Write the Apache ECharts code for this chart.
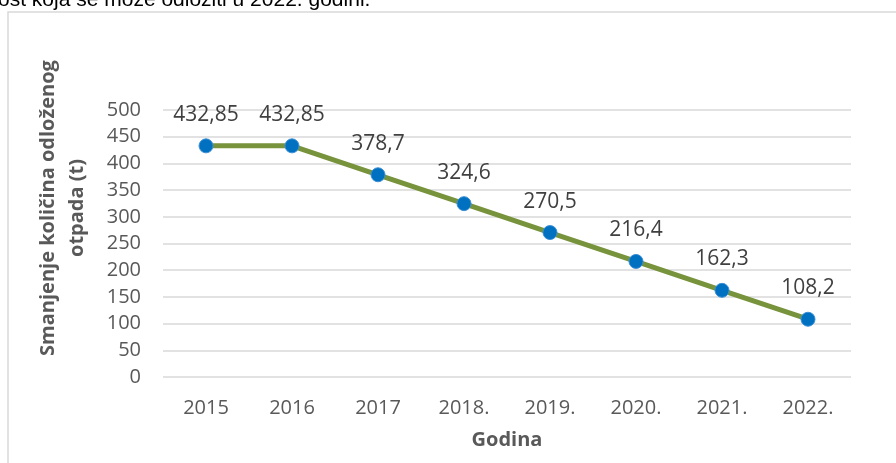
<!DOCTYPE html>
<html>
<head>
<meta charset="utf-8">
<script src="https://cdn.jsdelivr.net/npm/echarts@6/dist/echarts.min.js"></script>
<style>
html,body{margin:0;padding:0;background:#fff;}
#chart{width:896px;height:463px;}
</style>
</head>
<body>
<div id="chart"></div>
<script>
// podaci
var godine = ['2015', '2016', '2017', '2018.', '2019.', '2020.', '2021.', '2022.'];
var kolicina = [432.85, 432.85, 378.7, 324.6, 270.5, 216.4, 162.3, 108.2];
var yTicks = [0, 50, 100, 150, 200, 250, 300, 350, 400, 450, 500];

var chart = echarts.init(document.getElementById('chart'));
var font = '"Open Sans", "Noto Sans", sans-serif';

var option = {
	animation: false,
	graphic: [
		{
			type: 'text', left: -2, top: -10,
			style: {text: 'ost koja se može odložiti u 2022. godini.', font: '21px "Liberation Sans", Arial, sans-serif', fill: '#000'}
		},
		{
			type: 'rect', shape: {x: 8, y: 12, width: 1000, height: 600},
			style: {fill: 'none', stroke: '#d9d9d9', lineWidth: 1.5}
		},
		{
			type: 'text', x: 63, y: 208, rotation: Math.PI / 2,
			style: {
				text: 'Smanjenje količina odloženog\notpada (t)',
				font: 'bold 20px ' + font, fill: '#595959',
				align: 'center', verticalAlign: 'middle', lineHeight: 29
			}
		}
	],
	grid: {left: 163, right: 45, top: 110, bottom: 86},
	xAxis: {
		type: 'category',
		data: godine,
		name: 'Godina',
		nameLocation: 'middle',
		nameGap: 53,
		nameTextStyle: {fontFamily: font, fontSize: 20, fontWeight: 'bold', color: '#595959'},
		axisLine: {show: false},
		axisTick: {show: false},
		axisLabel: {fontFamily: font, fontSize: 20, color: '#595959', margin: 21}
	},
	yAxis: {
		type: 'value',
		min: yTicks[0],
		max: yTicks[yTicks.length - 1],
		interval: 50,
		axisLine: {show: false},
		axisTick: {show: false},
		axisLabel: {fontFamily: font, fontSize: 20, color: '#595959', margin: 22},
		splitLine: {lineStyle: {color: '#d9d9d9', width: 1.5}}
	},
	series: [{
		type: 'line',
		data: kolicina,
		symbol: 'circle',
		symbolSize: 14,
		lineStyle: {color: '#77933c', width: 5},
		itemStyle: {color: '#0070c0', borderColor: '#3b8fd6', borderWidth: 1},
		label: {
			show: true, position: 'top', distance: 13,
			fontFamily: font, fontSize: 21, color: '#404040',
			formatter: function (p) { return String(p.value).replace('.', ','); }
		}
	}]
};

chart.setOption(option);
</script>
</body>
</html>
